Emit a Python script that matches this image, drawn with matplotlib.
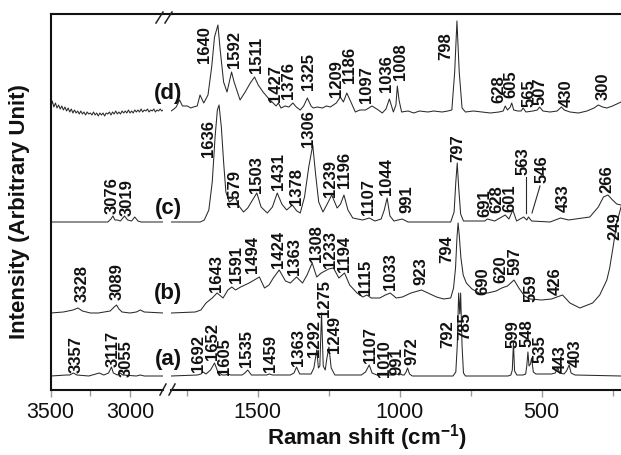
import matplotlib
matplotlib.use('Agg')
import matplotlib.pyplot as plt
from matplotlib.lines import Line2D

plt.rcParams['font.family'] = ['Liberation Sans', 'DejaVu Sans']
plt.rcParams['mathtext.fontset'] = 'custom'
plt.rcParams['mathtext.rm'] = 'Liberation Sans'
plt.rcParams['mathtext.bf'] = 'Liberation Sans:bold'

# ---------------- data: (wavenumber, intensity above trace baseline) ----------------
# (a)
a_hi = [(3500, 0), (3400, 1), (3380, 1), (3357, 3), (3335, 1), (3260, 0), (3215, 2), (3195, 3),
        (3165, 1), (3135, 3), (3117, 9), (3105, 3), (3080, 1), (3062, 3), (3045, 1), (2960, 0),
        (2935, 1), (2910, 0), (2790, 0)]
a_lo = [(1805, 0), (1712, 1), (1700, 2), (1692, 4), (1682, 2), (1666, 6), (1652, 13), (1640, 4),
        (1625, 1), (1612, 1), (1605, 2), (1595, 1), (1555, 1), (1545, 3), (1535, 6), (1522, 1),
        (1480, 1), (1468, 1), (1459, 2), (1448, 1), (1385, 1), (1372, 3), (1363, 9), (1352, 2),
        (1312, 2), (1302, 8), (1292, 26), (1286, 8), (1281, 10), (1275, 63), (1269, 10), (1262, 6),
        (1256, 18), (1249, 29), (1241, 8), (1228, 1), (1135, 1), (1120, 4), (1107, 11), (1097, 3),
        (1080, 1), (1018, 1), (1010, 2), (1002, 1), (995, 2), (991, 1), (984, 1), (977, 4),
        (972, 8), (965, 2), (955, 0), (812, 0), (802, 4), (797, 30), (792, 83), (788, 62),
        (785, 83), (780, 30), (775, 3), (768, 0), (618, 0), (608, 1), (603, 6), (599, 33),
        (595, 5), (587, 1), (565, 1), (556, 2), (552, 10), (548, 24), (544, 10), (539, 12),
        (535, 18), (529, 4), (520, 2), (465, 2), (452, 3), (443, 8), (436, 3), (421, 2),
        (412, 5), (403, 11), (396, 3), (382, 1), (220, 0)]
# (b)
b_hi = [(3500, 0), (3420, 1), (3360, 3), (3328, 5), (3300, 2), (3250, 0), (3200, 0), (3125, 2),
        (3100, 6), (3085, 8), (3070, 4), (3050, 1), (3000, 0), (2960, 1), (2935, 3), (2910, 1),
        (2790, 0)]
b_lo = [(1805, 0), (1720, 1), (1700, 3), (1682, 10), (1660, 15), (1643, 20), (1622, 15), (1605, 23),
        (1591, 26), (1578, 23), (1560, 26), (1530, 30), (1494, 36), (1476, 25), (1460, 28), (1445, 35),
        (1424, 43), (1402, 32), (1385, 30), (1363, 36), (1342, 30), (1326, 38), (1308, 50), (1292, 36),
        (1276, 40), (1250, 44), (1233, 45), (1214, 35), (1194, 40), (1176, 28), (1150, 20), (1130, 16),
        (1115, 18), (1100, 15), (1070, 15), (1050, 18), (1033, 20), (1012, 15), (990, 16), (960, 20),
        (923, 23), (900, 20), (870, 16), (845, 14), (820, 15), (810, 25), (803, 45), (798, 75),
        (794, 90), (790, 78), (784, 55), (776, 38), (765, 30), (745, 24), (720, 20), (690, 20),
        (660, 22), (640, 25), (620, 27), (597, 33), (580, 25), (560, 17), (540, 14), (500, 13),
        (465, 14), (426, 18), (400, 10), (365, 5), (320, 10), (295, 18), (270, 33), (260, 45),
        (248, 66), (235, 90), (220, 106)]
# (c)
c_hi = [(3500, 0), (3140, 0), (3120, 3), (3108, 6), (3095, 2), (3080, 2), (3060, 1), (3035, 6),
        (3015, 2), (2990, 1), (2970, 5), (2950, 1), (2930, 0), (2790, 0)]
c_lo = [(1805, 0), (1702, 0), (1688, 2), (1672, 12), (1660, 40), (1650, 85), (1642, 112), (1636, 117),
        (1628, 95), (1620, 60), (1612, 30), (1600, 20), (1590, 22), (1579, 25), (1566, 16), (1550, 10),
        (1535, 14), (1518, 22), (1503, 29), (1488, 15), (1466, 9), (1448, 15), (1431, 29), (1415, 18),
        (1398, 12), (1378, 17), (1362, 11), (1350, 9), (1335, 25), (1320, 55), (1306, 77), (1296, 48),
        (1285, 20), (1270, 10), (1255, 18), (1239, 27), (1220, 14), (1208, 18), (1196, 27), (1182, 12),
        (1165, 4), (1130, 2), (1107, 4), (1087, 1), (1065, 3), (1054, 12), (1044, 24), (1034, 6),
        (1020, 1), (991, 3), (970, 0), (820, 0), (808, 10), (802, 40), (797, 59), (792, 35),
        (785, 8), (775, 1), (700, 1), (691, 3), (665, 1), (628, 7), (615, 3), (601, 12),
        (588, 1), (563, 5), (552, 2), (546, 5), (535, 1), (470, 0), (433, 4), (405, 2),
        (330, 5), (300, 15), (282, 25), (266, 27), (250, 22), (235, 18), (220, 17)]
# (d)
d_hi_wn = list(range(3500, 2780, -10))
d_hi_int = [4, 11, 5, 9, 4, 7, 3, 6, 2, 5, 1, 4, 0, 3, -1, 2, -1, 1, -2, 1, -2, 0, -3, 0, -2, -1,
            -3, 0, -3, -1, -4, -1, -3, -1, -4, -1, -2, 0, -3, 0, -2, 1, -2, 0, -2, 1, -1, 1, -1, 2,
            -1, 1, -1, 2, 0, 2, 0, 3, 0, 2, 1, 3, 0, 2, 1, 3, 0, 2, 1, 3, 1, 2]
d_lo = [(1805, 1), (1795, 3), (1787, 5), (1775, 12), (1765, 6), (1748, 6), (1735, 4), (1727, 5),
        (1713, 6), (1703, 17), (1690, 9), (1675, 17), (1662, 45), (1652, 75), (1640, 87), (1632, 62),
        (1620, 30), (1608, 20), (1592, 40), (1583, 30), (1562, 12), (1544, 20), (1526, 29), (1511, 35),
        (1498, 27), (1481, 20), (1463, 14), (1449, 10), (1435, 6), (1427, 9), (1418, 4), (1403, 6),
        (1390, 5), (1376, 9), (1364, 5), (1350, 2), (1338, 6), (1325, 14), (1312, 6), (1304, 4),
        (1290, 5), (1272, 4), (1258, 6), (1244, 5), (1223, 9), (1209, 15), (1198, 10), (1186, 19),
        (1170, 9), (1156, 0), (1140, 2), (1120, 2), (1097, 6), (1075, 2), (1061, -1), (1048, 3),
        (1036, 13), (1022, 0), (1013, 7), (1008, 26), (1002, 12), (993, 0), (970, 1), (950, -1),
        (930, 1), (900, 0), (880, 1), (850, 0), (830, 1), (816, 2), (806, 40), (798, 91),
        (790, 40), (780, 4), (768, 0), (740, 1), (710, 0), (680, -1), (650, 0), (635, 1),
        (628, 6), (620, 2), (610, 5), (605, 9), (598, 2), (584, 1), (572, 1), (565, 4),
        (555, 0), (530, 1), (515, 2), (507, 5), (495, 1), (470, 0), (445, 1), (430, 5),
        (420, 2), (400, 0), (370, -1), (340, 1), (315, 4), (300, 7), (285, 5), (270, 4),
        (250, 6), (235, 8), (220, 10)]

trace_names = ['(a)', '(b)', '(c)', '(d)']
trace_offsets = [79, 142, 233, 343]

# peak labels
a_peaks = [3357, 3117, 3055, 1692, 1652, 1605, 1535, 1459, 1363, 1292, 1275, 1249, 1107, 1010, 991,
           972, 792, 785, 599, 548, 535, 443, 403]
b_peaks = [3328, 3089, 1643, 1591, 1494, 1424, 1363, 1308, 1233, 1194, 1115, 1033, 923, 794, 690,
           620, 597, 559, 426, 249]
c_peaks = [3076, 3019, 1636, 1579, 1503, 1431, 1378, 1306, 1239, 1196, 1107, 1044, 991, 797, 691,
           628, 601, 563, 546, 433, 266]
d_peaks = [1640, 1592, 1511, 1427, 1376, 1325, 1209, 1186, 1097, 1036, 1008, 798, 628, 605, 565,
           507, 430, 300]

xticks_hi = [3500, 3000]
xticks_lo = [1500, 1000, 500]

# ---------------- layout (pixels in a 621x455 canvas) ----------------
W, H = 621, 455
a_pos = [(76.5, 373), (113, 367), (126, 377), (199, 372), (212.5, 360), (225, 375), (247, 367),
         (270, 372), (299, 366), (314, 357), (325, 317), (335, 353), (371, 363), (384, 377),
         (397, 375), (412, 365), (448, 348), (465, 340), (513, 348), (527, 347), (540, 363),
         (560, 373), (575, 367)]
b_pos = [(82, 302), (117.5, 300), (216, 292), (237, 283), (252, 273), (278, 268), (295, 275),
         (316, 262), (331, 268), (344, 272), (366, 295), (391, 290), (421, 285), (447, 263),
         (483, 295), (501, 283), (515, 275), (531, 302), (555, 295), (615, 240)]
c_pos = [(112, 214), (127, 216), (209, 157), (235, 207), (256.5, 193), (278, 190), (296, 205),
         (308, 147), (331, 197), (345, 188), (368, 215), (387, 195), (407, 213), (458, 162),
         (485, 217), (497, 213), (510, 212), (523, 175), (542, 183), (563, 212), (607, 193)]
d_pos = [(204, 63), (235, 68), (256, 73), (275.5, 102), (288, 99), (308, 90), (336, 97),
         (350, 83), (367, 103), (386, 92), (400, 80), (446, 60), (499, 103), (511, 98),
         (529, 107), (540, 105), (566, 107), (603, 100)]
name_pos = [(168, 359), (168, 294), (168, 209), (168, 93)]

ax_bottom, ax_top = 390, 14
left_x0, left_x1 = 50.7, 163
right_x0, right_x1 = 171, 621

fig = plt.figure(figsize=(W / 100, H / 100), dpi=100)


def fx(px):
    return px / W


def fy(py):
    return 1 - py / H


axL = fig.add_axes([fx(left_x0), fy(ax_bottom), fx(left_x1 - left_x0), (ax_bottom - ax_top) / H])
axR = fig.add_axes([fx(right_x0), fy(ax_bottom), fx(right_x1 - right_x0), (ax_bottom - ax_top) / H],
                   sharey=axL)

line_kw = dict(color='#2a2a2a', lw=0.75)

his = [a_hi, b_hi, c_hi, list(zip(d_hi_wn, d_hi_int))]
los = [a_lo, b_lo, c_lo, d_lo]
for hi, lo, off in zip(his, los, trace_offsets):
    wn, inten = zip(*hi)
    axL.plot(wn, [v + off for v in inten], **line_kw)
    wn, inten = zip(*lo)
    axR.plot(wn, [v + off for v in inten], **line_kw)

axL.set_xlim(3500, 2792)
axR.set_xlim(1805.3, 220.1)
axL.set_ylim(H - ax_bottom, H - ax_top)

spine_lw = 1.5
for ax in (axL, axR):
    for s in ax.spines.values():
        s.set_linewidth(spine_lw)
        s.set_color('#111111')
    ax.spines['right'].set_visible(False)
    ax.set_yticks([])
    ax.tick_params(axis='x', which='both', direction='out', color='#9a9a9a', width=1.0,
                   labelsize=15.5, pad=4, labelcolor='#111111')
    ax.tick_params(axis='x', which='major', length=5)
    ax.tick_params(axis='x', which='minor', length=4)
    ax.patch.set_alpha(0)
axR.spines['left'].set_visible(False)
axR.tick_params(axis='y', left=False, labelleft=False)

axL.set_xticks(xticks_hi)
axL.set_xticks([3250], minor=True)
axR.set_xticks(xticks_lo)
axR.set_xticks([1750, 1250, 750, 250], minor=True)

# continuous top spine across the break
fig.add_artist(Line2D([fx(left_x1 - 1), fx(right_x0 + 1)], [fy(ax_top), fy(ax_top)],
                      color='#111111', lw=spine_lw, transform=fig.transFigure))
# break marks
for (x0, y0, x1, y1) in [(156, 23, 163, 12), (165, 23, 172, 12), (160, 395, 166, 384), (169, 395, 175, 384)]:
    fig.add_artist(Line2D([fx(x0), fx(x1)], [fy(y0), fy(y1)], color='#222222', lw=1.1,
                          transform=fig.transFigure))

# leader lines for 563 and 546 in (c)
for (x0, y0, x1, y1) in [(526, 177, 526, 213), (540, 186, 532, 213)]:
    fig.add_artist(Line2D([fx(x0), fx(x1)], [fy(y0), fy(y1)], color='#2a2a2a', lw=0.8,
                          transform=fig.transFigure))

# peak labels
for peaks, pos in [(a_peaks, a_pos), (b_peaks, b_pos), (c_peaks, c_pos), (d_peaks, d_pos)]:
    for p, (x, y) in zip(peaks, pos):
        fig.text(fx(x), fy(y), str(p), rotation=90, ha='center', va='bottom',
                 fontsize=12, fontweight='bold', color='#111111')

# trace names
for name, (x, y) in zip(trace_names, name_pos):
    fig.text(fx(x), fy(y), name, ha='center', va='center', fontsize=16, fontweight='bold',
             color='#111111',
             bbox=dict(facecolor='white', edgecolor='none', pad=1.0) if name == '(c)' else None)

fig.text(fx(20), fy(212), 'Intensity (Arbitrary Unit)', rotation=90, ha='center', va='center',
         fontsize=16, fontweight='bold', color='#111111')
fig.text(fx(367), fy(453), 'Raman shift (cm$^{\\mathbf{-1}}$)', ha='center', va='bottom',
         fontsize=16, fontweight='bold', color='#111111')

fig.savefig('out.png', dpi=100)
